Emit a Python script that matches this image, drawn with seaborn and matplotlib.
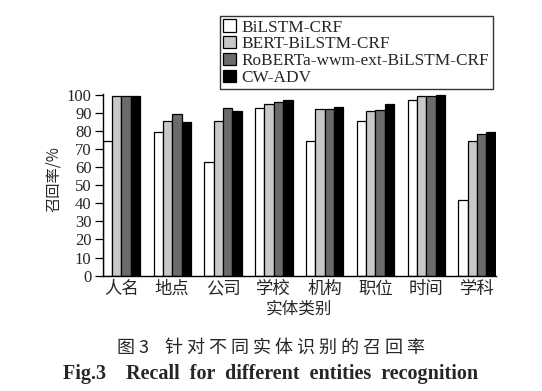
import matplotlib
matplotlib.use("Agg")
import matplotlib.pyplot as plt
import seaborn as sns
import pandas as pd
from matplotlib.patches import Patch

categories = ["人名", "地点", "公司", "学校", "机构", "职位", "时间", "学科"]
models = ["BiLSTM-CRF", "BERT-BiLSTM-CRF", "RoBERTa-wwm-ext-BiLSTM-CRF", "CW-ADV"]
bilstm_crf = [74.5, 79.2, 63.0, 92.4, 74.4, 85.5, 97.0, 41.8]
bert_bilstm_crf = [99.5, 85.5, 85.6, 94.8, 92.3, 90.8, 99.4, 74.4]
roberta_bilstm_crf = [99.5, 89.5, 92.4, 95.8, 92.3, 91.7, 99.4, 78.5]
cw_adv = [99.5, 84.7, 91.0, 97.0, 93.4, 94.8, 100.0, 79.2]
yticks = list(range(0, 101, 10))
colors = ["#ffffff", "#c8c8c8", "#6b6b6b", "#000000"]

series = [bilstm_crf, bert_bilstm_crf, roberta_bilstm_crf, cw_adv]
rows = []
for m, vals in zip(models, series):
    for c, v in zip(categories, vals):
        rows.append({"category": c, "model": m, "value": v})
df = pd.DataFrame(rows)

sns.set_style("ticks")
plt.rcParams["font.family"] = ["Liberation Serif", "Noto Sans CJK SC"]

fig = plt.figure(figsize=(5.42, 3.91), dpi=100)
ax = fig.add_axes([0.1895, 0.2949, 0.7251, 0.4657])

W = 0.736
sns.barplot(data=df, x="category", y="value", hue="model", order=categories,
            hue_order=models, palette=colors, width=W, gap=0, dodge=True,
            edgecolor="black", linewidth=0.9, saturation=1, ax=ax, legend=False)

ax.set_xlim(-W / 2, len(categories) - 1 + W / 2)
ax.set_ylim(0, 100.6)
ax.set_yticks(yticks)
ax.set_yticklabels([str(t) for t in yticks], fontsize=12, family="Liberation Serif")
ax.set_xticks(range(len(categories)))
ax.set_xticklabels(categories, fontsize=12.5, family="Noto Sans CJK SC")
ax.tick_params(axis="y", direction="out", length=6, width=0.9, pad=2, color="black")
ax.tick_params(axis="x", length=0, pad=3)
for s in ["top", "right"]:
    ax.spines[s].set_visible(False)
for s in ["left", "bottom"]:
    ax.spines[s].set_linewidth(1.0)
    ax.spines[s].set_color("black")

ax.set_xlabel("实体类别", fontsize=12, family="Noto Sans CJK SC", labelpad=2)
ax.set_ylabel("召回率/%", fontsize=11, family="Noto Sans CJK SC")
ax.yaxis.set_label_coords(-0.104, 0.53)

handles = [Patch(facecolor=c, edgecolor="black", linewidth=0.9) for c in colors]
leg = fig.legend(handles, models, loc="upper left", bbox_to_anchor=(220 / 542, 1 - 16 / 391),
                 frameon=True, fancybox=False, edgecolor="black",
                 handlelength=0.7, handleheight=0.7, handletextpad=0.35,
                 labelspacing=0.04, borderpad=0.2, borderaxespad=0,
                 prop={"family": "Liberation Serif", "size": 12.4})
leg.get_frame().set_linewidth(1.0)

fig.text(0.5, 1 - 348 / 391, "图 3    针 对 不 同 实 体 识 别 的 召 回 率", ha="center", va="center",
         fontsize=13, family="Noto Sans CJK SC")
fig.text(0.5, 1 - 374 / 391, "Fig.3    Recall  for  different  entities  recognition", ha="center",
         va="center", fontsize=14.5, fontweight="bold", family="Liberation Serif")

fig.savefig("out.png", dpi=100)
